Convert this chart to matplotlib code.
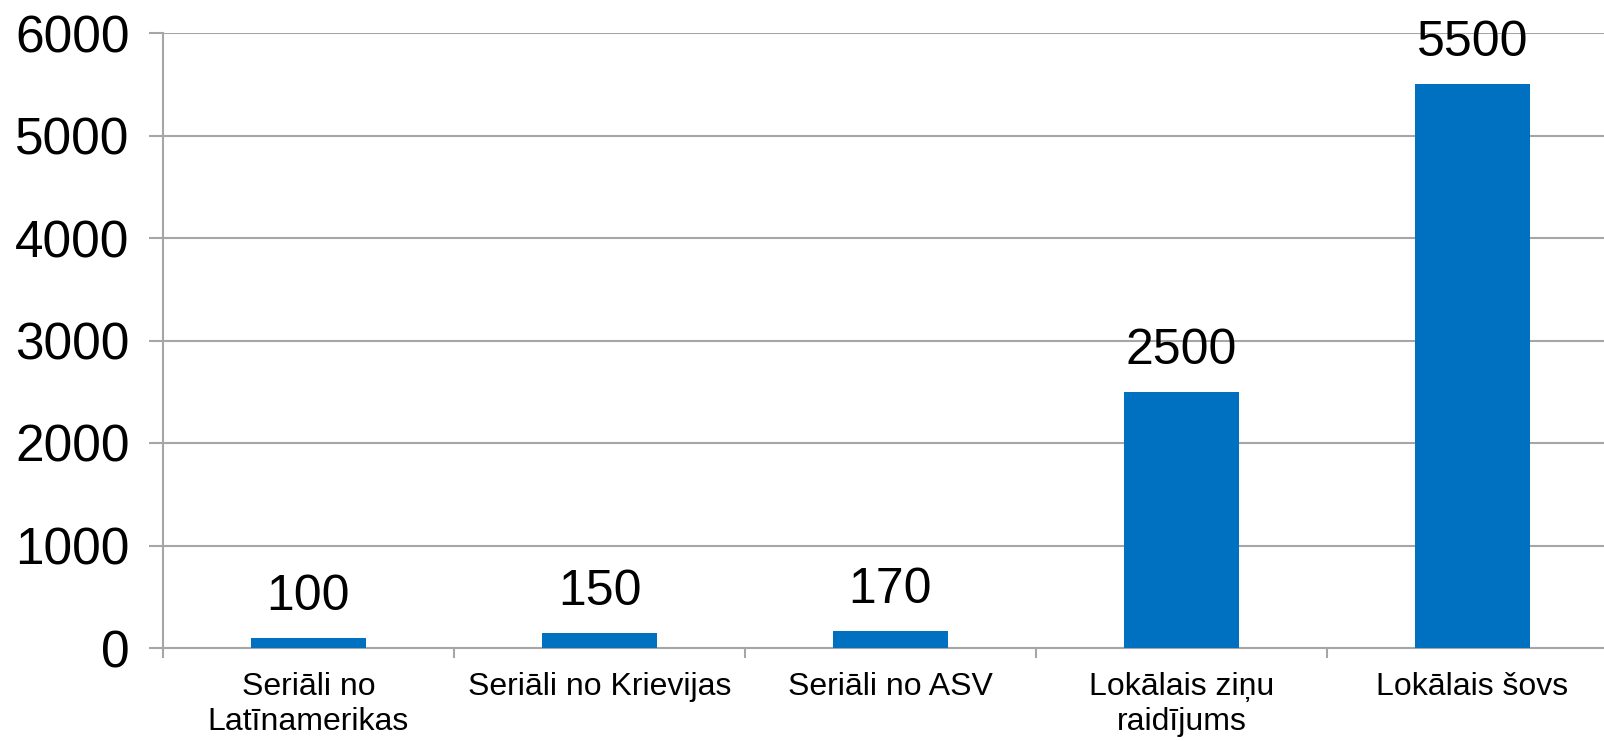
import matplotlib
matplotlib.use("Agg")
import matplotlib.pyplot as plt
import numpy as np

# Chart data
categories = ["Seriāli no\nLatīnamerikas", "Seriāli no Krievijas", "Seriāli no ASV",
              "Lokālais ziņu\nraidījums", "Lokālais šovs"]
values = [100, 150, 170, 2500, 5500]
y_ticks = [0, 1000, 2000, 3000, 4000, 5000, 6000]

plt.rcParams['font.family'] = ['Liberation Sans', 'DejaVu Sans']
grid_color = '#A6A6A6'
bar_color = '#0070C0'

fig = plt.figure(figsize=(16.04, 7.41), dpi=100)
# axes right edge runs slightly past the figure, as in the original
ax = fig.add_axes([163 / 1604, 93 / 741, 1455 / 1604, 615 / 741])

x = np.arange(len(categories))
bars = ax.bar(x, values, width=0.395, color=bar_color, zorder=3)

# value labels above bars
for rect, v in zip(bars, values):
    ax.annotate(str(v), (rect.get_x() + rect.get_width() / 2, v),
                xytext=(0, 13), textcoords='offset points',
                ha='center', va='bottom', fontsize=36, color='black')

ax.set_xlim(-0.5, len(categories) - 0.5)
ax.set_ylim(0, 6000)
ax.set_yticks(y_ticks)
ax.set_yticklabels([str(t) for t in y_ticks], fontsize=37)
ax.yaxis.grid(True, color=grid_color, linewidth=1.5, zorder=0)
ax.tick_params(axis='y', length=10, width=1.5, color=grid_color, pad=14)

# category boundaries as major ticks, names on minor ticks
ax.set_xticks(np.arange(len(categories) + 1) - 0.5)
ax.set_xticklabels([])
ax.tick_params(axis='x', which='major', length=7, width=1.5, color=grid_color)
ax.set_xticks(x, minor=True)
ax.set_xticklabels(categories, minor=True, fontsize=23, linespacing=1.25)
ax.tick_params(axis='x', which='minor', length=0, pad=17)

for side in ['top', 'right']:
    ax.spines[side].set_visible(False)
for side in ['left', 'bottom']:
    ax.spines[side].set_color(grid_color)
    ax.spines[side].set_linewidth(1.5)

fig.savefig("out.png", dpi=100)
